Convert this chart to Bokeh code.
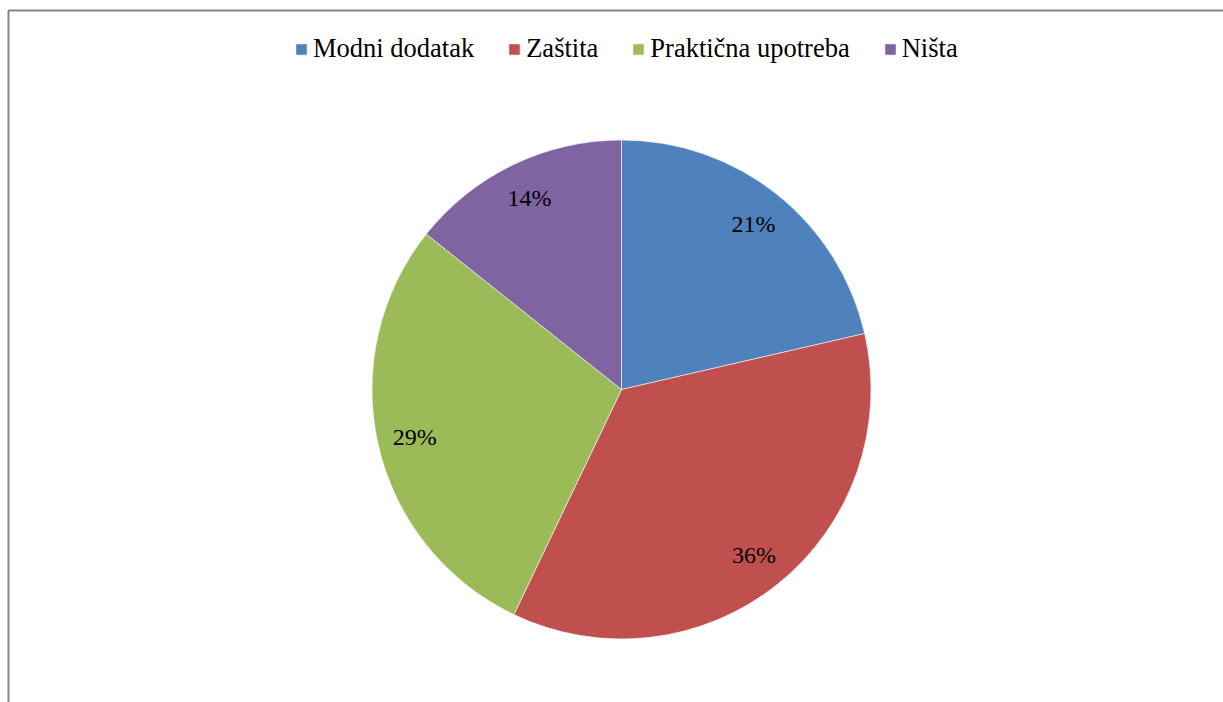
import math
from bokeh.plotting import figure
from bokeh.models import ColumnDataSource, Range1d, BoxAnnotation, Legend, LegendItem
from bokeh.core.properties import value
from bokeh.embed import file_html
from bokeh.resources import INLINE

categories = ["Modni dodatak", "Zaštita", "Praktična upotreba", "Ništa"]
shares = [21.4, 35.7, 28.6, 14.3]
colors = ["#4F81BD", "#C0504D", "#9BBB59", "#8064A2"]

W, H = 1223, 702
CX, CY = 621, 313   # pie centre in canvas pixels (from left, from bottom)
R = 249.5
LABEL_R = 0.85

total = sum(shares)
starts, ends, lx, ly, labels = [], [], [], [], []
a = math.pi / 2
for s in shares:
    sweep = 2 * math.pi * s / total
    starts.append(a - sweep)
    ends.append(a)
    mid = a - sweep / 2
    lx.append(LABEL_R * R * math.cos(mid))
    ly.append(LABEL_R * R * math.sin(mid))
    labels.append(f"{round(s)}%")
    a -= sweep

src = ColumnDataSource(dict(cat=categories, start=starts, end=ends, color=colors,
                            lx=lx, ly=ly, label=labels))

p = figure(width=W, height=H, output_backend="svg", toolbar_location=None,
           x_range=Range1d(-CX, W - CX), y_range=Range1d(-CY, H - CY),
           min_border=0, outline_line_color=None)
p.axis.visible = False
p.grid.visible = False
p.background_fill_color = "white"
p.border_fill_color = "white"

r = p.wedge(x=0, y=0, radius=R, start_angle="start", end_angle="end",
            fill_color="color", line_color="white", line_width=0.8, line_alpha=0.7,
            source=src)

p.text(x="lx", y="ly", text="label", source=src, text_align="center",
       text_baseline="middle", text_font=value("Liberation Serif"),
       text_font_size="24px", text_color="black")

items = [LegendItem(label=c, renderers=[r], index=i) for i, c in enumerate(categories)]
legend = Legend(items=items, orientation="horizontal", location=(294, 638),
                label_text_font="Liberation Serif", label_text_font_size="26.5px",
                label_text_color="black",
                glyph_width=14, glyph_height=14, label_standoff=5, spacing=33,
                padding=0, margin=0, border_line_color=None,
                background_fill_alpha=0)
p.add_layout(legend, "center")

# chart-area border (only top and left edges fall inside the picture)
p.add_layout(BoxAnnotation(left=-CX + 8, top=H - CY - 10, right=W - CX + 20, bottom=-CY - 20,
                           fill_alpha=0, line_color="#858585", line_alpha=1.0, line_width=2))

open("out.html", "w").write(file_html(p, INLINE))
